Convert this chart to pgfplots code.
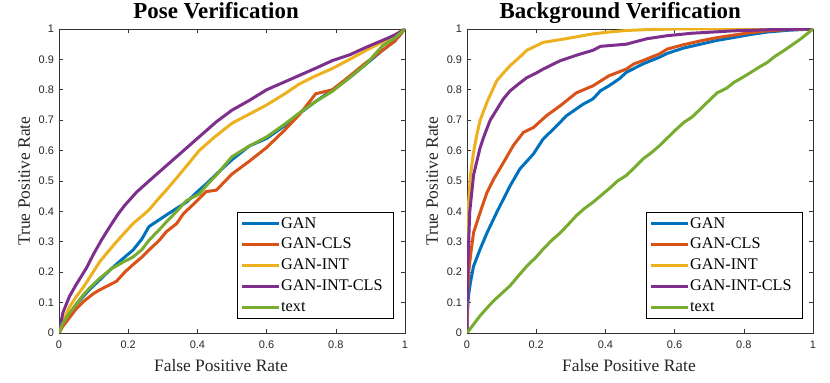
\documentclass[border=0pt]{standalone}
\usepackage{fontspec}
\setmainfont{Liberation Serif}
\setsansfont{Liberation Sans}
\usepackage{pgfplots}
\pgfplotsset{compat=1.18}
\definecolor{mblue}{rgb}{0,0.447,0.741}
\definecolor{mred}{rgb}{0.85,0.325,0.098}
\definecolor{myellow}{rgb}{0.929,0.694,0.125}
\definecolor{mpurple}{rgb}{0.494,0.184,0.556}
\definecolor{mgreen}{rgb}{0.466,0.674,0.188}
\pgfplotsset{rocstyle/.style={
  scale only axis, width=346bp, height=304bp,
  xmin=0,xmax=1,ymin=0,ymax=1,
  xtick={0,0.2,0.4,0.6,0.8,1},
  ytick={0,0.1,0.2,0.3,0.4,0.5,0.6,0.7,0.8,0.9,1},
  tick align=inside, tick pos=both, major tick length=4bp,
  axis line style={line width=0.7bp, color=black!80},
  tick style={line width=0.6bp, color=black!80},
  /pgf/number format/assume math mode=true,
  tick label style={font=\sffamily\fontsize{11}{12}\selectfont, color=black!85},
  xticklabel style={anchor=north, yshift=-4.5bp},
  yticklabel style={anchor=east, xshift=-1.5bp},
  label style={font=\fontsize{17.5}{18}\selectfont, color=black!85},
  title style={font=\bfseries\fontsize{23}{24}\selectfont, anchor=base},
  xlabel={False Positive Rate},
  ylabel={True Positive Rate},
  ylabel style={at={(axis description cs:-0.084,0.5)}, anchor=base},
  every axis plot/.append style={line width=3bp, line join=round, no marks},
  legend cell align=left,
  legend image code/.code={\draw[#1, line width=3bp] (0bp,0bp) -- (37bp,0bp);},
  legend style={font=\fontsize{16.3}{17}\selectfont, draw=black, line width=0.8bp,
    inner xsep=3.5bp, inner ysep=3bp, row sep=4.4bp,
    nodes={inner sep=0.5bp, text height=12bp, text depth=3.5bp},
    at={(0.968,0.046)}, anchor=south east},
}}
\begin{document}
\begin{tikzpicture}
\path[use as bounding box] (0,0) rectangle (830bp,383bp);
% ---------------- Pose Verification ----------------
\begin{axis}[rocstyle, at={(59bp,50bp)}, anchor=south west,
  title={Pose Verification}, title style={at={(axis description cs:0.454,1.014)}},
  xlabel style={at={(axis description cs:0.468,-0.128)}, anchor=base}]
\addplot[mblue] coordinates {(0,0) (0.01,0.025) (0.03,0.06) (0.05,0.095) (0.07,0.12) (0.09,0.145) (0.118,0.175) (0.15,0.21) (0.18,0.24) (0.214,0.273) (0.24,0.31) (0.26,0.35) (0.31,0.388) (0.34,0.41) (0.368,0.43) (0.405,0.47) (0.43,0.495) (0.455,0.523) (0.5,0.57) (0.55,0.615) (0.6,0.64) (0.65,0.68) (0.696,0.723) (0.74,0.76) (0.79,0.80) (0.84,0.84) (0.888,0.885) (0.935,0.93) (0.97,0.96) (1,1)};
\addplot[mred] coordinates {(0,0) (0.01,0.02) (0.03,0.05) (0.05,0.08) (0.07,0.103) (0.1,0.13) (0.118,0.142) (0.14,0.155) (0.166,0.17) (0.19,0.2) (0.214,0.225) (0.24,0.25) (0.26,0.273) (0.29,0.305) (0.31,0.333) (0.34,0.36) (0.36,0.393) (0.39,0.425) (0.425,0.465) (0.455,0.47) (0.5,0.523) (0.55,0.565) (0.6,0.61) (0.65,0.665) (0.696,0.72) (0.742,0.787) (0.79,0.80) (0.84,0.845) (0.888,0.89) (0.935,0.93) (0.97,0.96) (1,1)};
\addplot[myellow] coordinates {(0,0) (0.01,0.035) (0.03,0.085) (0.05,0.12) (0.07,0.15) (0.09,0.185) (0.118,0.235) (0.14,0.265) (0.166,0.30) (0.19,0.33) (0.214,0.36) (0.24,0.385) (0.26,0.405) (0.29,0.445) (0.31,0.47) (0.34,0.51) (0.358,0.535) (0.38,0.565) (0.405,0.60) (0.45,0.645) (0.5,0.69) (0.55,0.72) (0.6,0.75) (0.65,0.785) (0.696,0.82) (0.74,0.845) (0.79,0.87) (0.84,0.90) (0.888,0.93) (0.94,0.96) (0.97,0.98) (1,1)};
\addplot[mpurple] coordinates {(0,0) (0.011,0.066) (0.03,0.12) (0.05,0.16) (0.08,0.215) (0.1,0.26) (0.125,0.31) (0.147,0.35) (0.17,0.39) (0.19,0.42) (0.224,0.463) (0.26,0.50) (0.31,0.55) (0.36,0.60) (0.405,0.645) (0.455,0.695) (0.5,0.733) (0.55,0.765) (0.6,0.80) (0.65,0.825) (0.696,0.848) (0.74,0.87) (0.79,0.896) (0.84,0.915) (0.888,0.94) (0.94,0.965) (0.97,0.98) (1,1)};
\addplot[mgreen] coordinates {(0,0) (0.01,0.03) (0.03,0.065) (0.05,0.095) (0.07,0.125) (0.09,0.15) (0.118,0.18) (0.15,0.21) (0.18,0.23) (0.214,0.25) (0.24,0.275) (0.26,0.305) (0.29,0.34) (0.31,0.365) (0.34,0.40) (0.368,0.435) (0.405,0.457) (0.43,0.49) (0.455,0.52) (0.5,0.58) (0.55,0.615) (0.6,0.645) (0.65,0.685) (0.696,0.725) (0.74,0.76) (0.79,0.795) (0.84,0.84) (0.888,0.885) (0.935,0.945) (0.97,0.97) (1,1)};
\legend{GAN,GAN-CLS,GAN-INT,GAN-INT-CLS\hspace*{7bp},text}
\end{axis}
% ---------------- Background Verification ----------------
\begin{axis}[rocstyle, at={(467bp,50bp)}, anchor=south west,
  title={Background Verification}, title style={at={(axis description cs:0.443,1.014)}},
  xlabel style={at={(axis description cs:0.468,-0.128)}, anchor=base},
  legend style={at={(0.971,0.046)}, anchor=south east}]
\addplot[mblue] coordinates {(0,0) (0.002,0.08) (0.004,0.12) (0.01,0.167) (0.019,0.22) (0.038,0.276) (0.058,0.33) (0.086,0.397) (0.105,0.44) (0.125,0.485) (0.153,0.54) (0.192,0.589) (0.22,0.638) (0.25,0.671) (0.288,0.715) (0.336,0.753) (0.364,0.77) (0.386,0.797) (0.41,0.813) (0.44,0.836) (0.46,0.857) (0.508,0.885) (0.556,0.907) (0.579,0.92) (0.625,0.937) (0.675,0.95) (0.72,0.962) (0.771,0.972) (0.82,0.982) (0.868,0.99) (0.93,0.996) (1,1)};
\addplot[mred] coordinates {(0,0) (0.002,0.13) (0.005,0.2) (0.01,0.254) (0.019,0.33) (0.038,0.397) (0.058,0.463) (0.077,0.506) (0.105,0.56) (0.134,0.617) (0.163,0.66) (0.192,0.676) (0.23,0.715) (0.27,0.748) (0.316,0.79) (0.364,0.813) (0.41,0.846) (0.46,0.868) (0.482,0.885) (0.508,0.896) (0.556,0.918) (0.579,0.934) (0.625,0.948) (0.675,0.961) (0.72,0.971) (0.771,0.98) (0.82,0.988) (0.868,0.994) (0.93,0.998) (1,1)};
\addplot[myellow] coordinates {(0,0) (0.001,0.3) (0.003,0.4) (0.01,0.52) (0.019,0.595) (0.028,0.65) (0.038,0.70) (0.058,0.76) (0.086,0.83) (0.105,0.855) (0.125,0.88) (0.15,0.905) (0.173,0.93) (0.2,0.945) (0.22,0.956) (0.27,0.965) (0.32,0.975) (0.364,0.984) (0.41,0.99) (0.46,0.995) (0.52,0.998) (0.6,1) (1,1)};
\addplot[mpurple] coordinates {(0,0) (0.001,0.15) (0.003,0.243) (0.008,0.40) (0.019,0.52) (0.038,0.61) (0.05,0.65) (0.067,0.70) (0.086,0.735) (0.105,0.77) (0.125,0.797) (0.15,0.82) (0.173,0.84) (0.2,0.855) (0.22,0.868) (0.27,0.896) (0.32,0.915) (0.364,0.93) (0.386,0.943) (0.46,0.95) (0.52,0.968) (0.579,0.978) (0.65,0.986) (0.771,0.994) (0.88,0.998) (1,1)};
\addplot[mgreen] coordinates {(0,0) (0.02,0.03) (0.038,0.057) (0.06,0.085) (0.077,0.106) (0.1,0.13) (0.125,0.156) (0.15,0.19) (0.173,0.22) (0.2,0.25) (0.22,0.276) (0.245,0.305) (0.27,0.33) (0.295,0.36) (0.316,0.386) (0.34,0.41) (0.364,0.43) (0.39,0.455) (0.41,0.474) (0.435,0.5) (0.46,0.518) (0.485,0.545) (0.508,0.572) (0.535,0.595) (0.56,0.62) (0.6,0.665) (0.627,0.693) (0.65,0.71) (0.675,0.737) (0.7,0.765) (0.723,0.79) (0.75,0.805) (0.771,0.824) (0.8,0.843) (0.82,0.857) (0.845,0.875) (0.868,0.89) (0.89,0.91) (0.916,0.929) (0.94,0.948) (0.964,0.967) (1,1)};
\legend{GAN,GAN-CLS,GAN-INT,GAN-INT-CLS\hspace*{7bp},text}
\end{axis}
\end{tikzpicture}
\end{document}
